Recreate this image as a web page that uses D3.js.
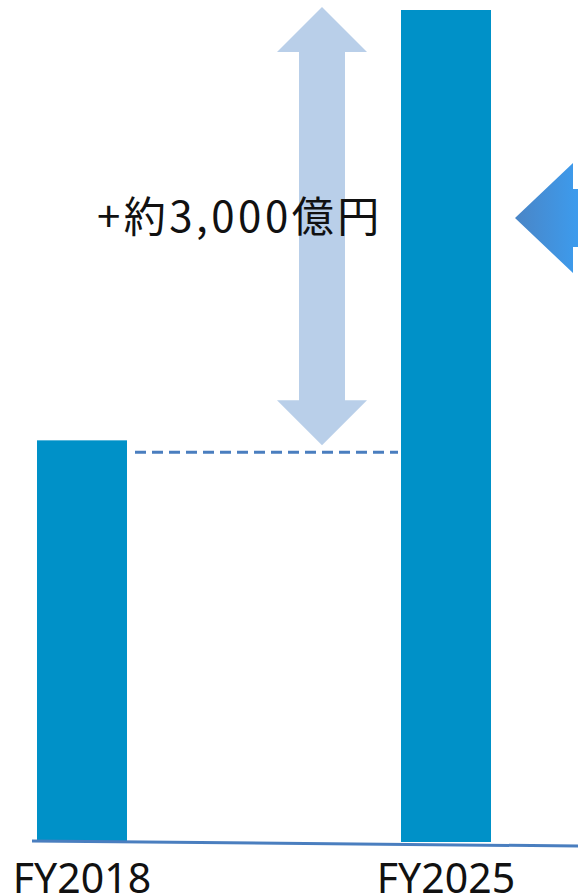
<!DOCTYPE html>
<html>
<head>
<meta charset="utf-8">
<script src="https://cdn.jsdelivr.net/npm/d3@7"></script>
<style>
  body { margin: 0; background: #fff; overflow: hidden; }
  svg { display: block; }
</style>
</head>
<body>
<div id="chart"></div>
<script>
// chart data
let categories = ["FY2018", "FY2025"];
let values = [2800, 5800];
let gapLabel = "+約3,000億円";

let width = 578;
let height = 896;
let baseY = 842;

let svg = d3.select("#chart")
    .append("svg")
    .attr("width", width)
    .attr("height", height);

let defs = svg.append("defs");
let grad = defs.append("linearGradient")
    .attr("id", "sideArrow")
    .attr("x1", "0%").attr("x2", "100%")
    .attr("y1", "0%").attr("y2", "0%");
grad.append("stop").attr("offset", "0%").attr("stop-color", "#4a85c6");
grad.append("stop").attr("offset", "100%").attr("stop-color", "#38a3fb");

// scales
let xScale = d3.scalePoint()
    .domain(categories)
    .range([82, 446]);
let yScale = d3.scaleLinear()
    .domain([0, d3.max(values)])
    .range([baseY, 10]);
let barWidth = 90;

// bars
svg.selectAll("rect.bar")
    .data(values)
    .enter()
    .append("rect")
    .attr("class", "bar")
    .attr("x", (d, i) => xScale(categories[i]) - barWidth / 2)
    .attr("y", d => yScale(d))
    .attr("width", barWidth)
    .attr("height", d => baseY - yScale(d))
    .attr("fill", "#0091c8");

// baseline, slightly tilted like the original
svg.append("line")
    .attr("x1", 32).attr("y1", baseY - 1)
    .attr("x2", width).attr("y2", baseY + 4)
    .attr("stroke", "#4a7ebf")
    .attr("stroke-width", 3);

// dashed reference line at FY2018 level
let y0 = yScale(values[0]);
svg.append("line")
    .attr("x1", xScale(categories[0]) + barWidth / 2 + 8)
    .attr("x2", xScale(categories[1]) - barWidth / 2 - 3)
    .attr("y1", y0 + 12).attr("y2", y0 + 12)
    .attr("stroke", "#4a7ebf")
    .attr("stroke-width", 3)
    .attr("stroke-dasharray", "11,6");

// double arrow showing the increase
let ax = 322;
let arrowTop = yScale(values[1]) - 3;
let arrowBot = y0 + 5;
let head = 45, hw = 45, sw = 23;
let arrowPath = d3.path();
arrowPath.moveTo(ax, arrowTop);
arrowPath.lineTo(ax + hw, arrowTop + head);
arrowPath.lineTo(ax + sw, arrowTop + head);
arrowPath.lineTo(ax + sw, arrowBot - head);
arrowPath.lineTo(ax + hw, arrowBot - head);
arrowPath.lineTo(ax, arrowBot);
arrowPath.lineTo(ax - hw, arrowBot - head);
arrowPath.lineTo(ax - sw, arrowBot - head);
arrowPath.lineTo(ax - sw, arrowTop + head);
arrowPath.lineTo(ax - hw, arrowTop + head);
arrowPath.closePath();
svg.append("path")
    .attr("d", arrowPath.toString())
    .attr("fill", "#b9cfe9");

// label for the increase
svg.append("text")
    .attr("x", 97)
    .attr("y", 232)
    .attr("font-family", "'Noto Sans CJK JP', 'Noto Sans', sans-serif")
    .attr("font-size", 42)
    .attr("letter-spacing", 3.5)
    .attr("fill", "#111")
    .text(gapLabel);

// arrow on the right edge, pointing left
let sidePath = d3.path();
sidePath.moveTo(515, 218);
sidePath.lineTo(573, 163);
sidePath.lineTo(573, 189);
sidePath.lineTo(600, 189);
sidePath.lineTo(600, 247);
sidePath.lineTo(573, 247);
sidePath.lineTo(573, 273);
sidePath.closePath();
svg.append("path")
    .attr("d", sidePath.toString())
    .attr("fill", "url(#sideArrow)");

// category labels
svg.selectAll("text.cat")
    .data(categories)
    .enter()
    .append("text")
    .attr("class", "cat")
    .attr("x", d => xScale(d))
    .attr("y", 893)
    .attr("text-anchor", "middle")
    .attr("font-family", "'Noto Sans', sans-serif")
    .attr("font-size", 41)
    .attr("fill", "#111")
    .text(d => d);
</script>
</body>
</html>
